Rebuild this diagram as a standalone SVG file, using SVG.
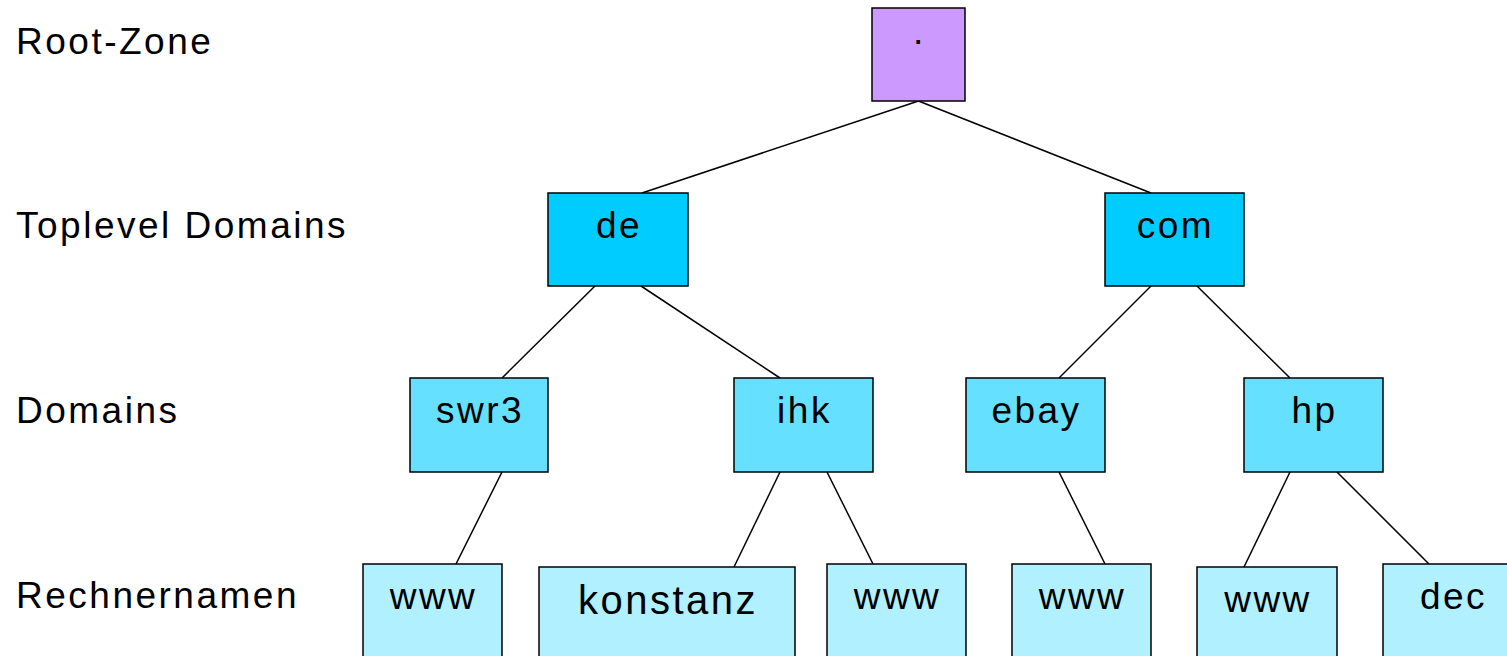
<svg xmlns="http://www.w3.org/2000/svg" width="1507" height="656" viewBox="0 0 1507 656">
<style>
  text { font-family: "Liberation Sans", Arial, sans-serif; font-size: 37px; letter-spacing: 2.5px; fill: #000; }
  .lbl { text-anchor: start; }
  .n text { text-anchor: middle; }
  .n rect { stroke: #000; stroke-width: 1.5; }
  .root rect { fill: #CC99FF; }
  .tld rect { fill: #00CCFF; }
  .dom rect { fill: #66E0FF; }
  .host rect { fill: #B0F0FF; }
  .big { font-size: 40px; }
  #connectors line { stroke: #000; stroke-width: 1.5; }
</style>
<rect width="1507" height="656" fill="#fff"/>
<g id="labels">
  <text class="lbl" x="16" y="54">Root-Zone</text>
  <text class="lbl" x="16" y="238">Toplevel Domains</text>
  <text class="lbl" x="16" y="423">Domains</text>
  <text class="lbl" x="16" y="608">Rechnernamen</text>
</g>
<g id="connectors">
  <line x1="918.5" y1="101" x2="642" y2="193"/>
  <line x1="918.5" y1="101" x2="1151" y2="193"/>
  <line x1="595" y1="286" x2="502" y2="378"/>
  <line x1="641" y1="286" x2="780" y2="378"/>
  <line x1="1151" y1="286" x2="1059" y2="378"/>
  <line x1="1197" y1="286" x2="1290" y2="378"/>
  <line x1="502" y1="472" x2="456" y2="564"/>
  <line x1="780" y1="472" x2="734" y2="567"/>
  <line x1="827" y1="472" x2="873" y2="564"/>
  <line x1="1059" y1="472" x2="1105" y2="564"/>
  <line x1="1290" y1="472" x2="1244" y2="567"/>
  <line x1="1337" y1="472" x2="1429" y2="564"/>
</g>
<g id="node-root" class="n root">
  <rect x="872" y="8" width="93" height="93"/>
  <text x="919.5" y="44">.</text>
</g>
<g id="node-de" class="n tld">
  <rect x="548" y="193" width="140" height="93"/>
  <text x="619" y="238">de</text>
</g>
<g id="node-com" class="n tld">
  <rect x="1105" y="193" width="139" height="93"/>
  <text x="1175.5" y="238">com</text>
</g>
<g id="node-swr3" class="n dom">
  <rect x="410" y="378" width="138" height="94"/>
  <text x="480" y="423">swr3</text>
</g>
<g id="node-ihk" class="n dom">
  <rect x="734" y="378" width="139" height="94"/>
  <text x="804.5" y="423">ihk</text>
</g>
<g id="node-ebay" class="n dom">
  <rect x="966" y="378" width="139" height="94"/>
  <text x="1036.5" y="423">ebay</text>
</g>
<g id="node-hp" class="n dom">
  <rect x="1244" y="378" width="139" height="94"/>
  <text x="1314.5" y="423">hp</text>
</g>
<g id="node-www-swr3" class="n host">
  <rect x="363" y="564" width="139" height="100"/>
  <text x="433.5" y="609">www</text>
</g>
<g id="node-konstanz" class="n host">
  <rect x="539" y="567" width="256" height="100"/>
  <text class="big" x="668" y="614">konstanz</text>
</g>
<g id="node-www-ihk" class="n host">
  <rect x="827" y="564" width="139" height="100"/>
  <text x="897.5" y="609">www</text>
</g>
<g id="node-www-ebay" class="n host">
  <rect x="1012" y="564" width="139" height="100"/>
  <text x="1082.5" y="609">www</text>
</g>
<g id="node-www-hp" class="n host">
  <rect x="1197" y="567" width="140" height="100"/>
  <text x="1268" y="612">www</text>
</g>
<g id="node-dec" class="n host">
  <rect x="1383" y="564" width="139" height="100"/>
  <text x="1453.5" y="609">dec</text>
</g>
</svg>
